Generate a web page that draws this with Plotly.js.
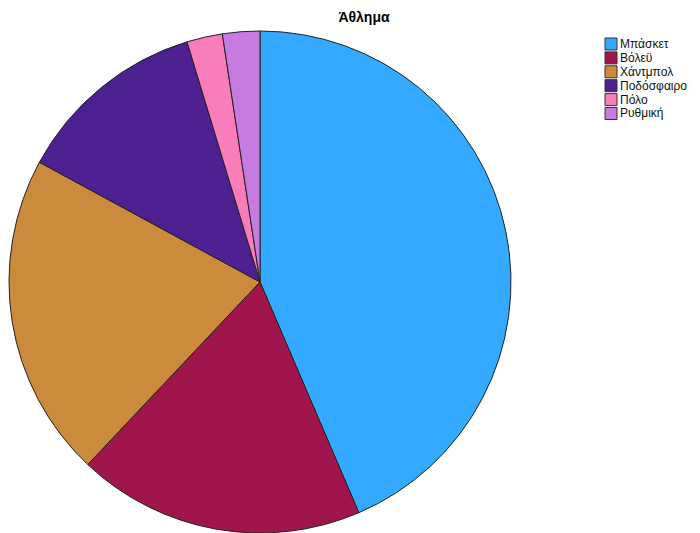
<!DOCTYPE html>
<html>
<head>
<meta charset="utf-8">
<script src="https://cdn.plot.ly/plotly-3.0.1.min.js"></script>
<style>html,body{margin:0;padding:0;background:#fff;}#chart{width:700px;height:533px;}</style>
</head>
<body>
<div id="chart"></div>
<script>
const categories = ["Μπάσκετ", "Βόλεϋ", "Χάντμπολ", "Ποδόσφαιρο", "Πόλο", "Ρυθμική"];
const values = [43.6, 18.5, 20.9, 12.4, 2.3, 2.4];
const colors = ["#33aaff", "#a0154c", "#cc8a3c", "#4c2090", "#f87db8", "#c77ae0"];
const chartTitle = "Άθλημα";

const W = 700, H = 533, T = 31, B = 0;
const px = x => x / W;
const py = y => (H - y) / (H - T - B);

const shapes = [];
const annotations = [];
const legX = 605, legY0 = 38, legStep = 13.9, sq = 12;
categories.forEach((c, i) => {
  const top = legY0 + i * legStep;
  shapes.push({
    type: "rect", xref: "paper", yref: "paper",
    x0: px(legX), x1: px(legX + sq), y0: py(top + sq), y1: py(top),
    fillcolor: colors[i], line: {color: "#333", width: 1}
  });
  annotations.push({
    text: c, xref: "paper", yref: "paper", showarrow: false,
    x: px(legX + sq + 2), y: py(top + sq / 2), xanchor: "left", yanchor: "middle",
    borderpad: 0,
    font: {family: "Liberation Sans, Arial, sans-serif", size: 12, color: "#111"}
  });
});

const data = [{
  type: "pie",
  labels: categories,
  values: values,
  sort: false,
  direction: "clockwise",
  rotation: 0,
  textinfo: "none",
  hoverinfo: "none",
  marker: {colors: colors, line: {color: "#222", width: 1}},
  domain: {x: [px(9), px(511)], y: [0, 1]},
  showlegend: false
}];

const layout = {
  width: W, height: H,
  margin: {l: 0, r: 0, t: T, b: B, autoexpand: false},
  paper_bgcolor: "#fff",
  title: {
    text: "<b>" + chartTitle + "</b>",
    x: 364 / W, xanchor: "center", xref: "paper",
    y: 1 - 17 / H, yanchor: "middle", yref: "container",
    font: {family: "Liberation Sans, Arial, sans-serif", size: 14, color: "#000"}
  },
  showlegend: false,
  shapes: shapes,
  annotations: annotations
};

Plotly.newPlot("chart", data, layout, {staticPlot: true});
</script>
</body>
</html>
